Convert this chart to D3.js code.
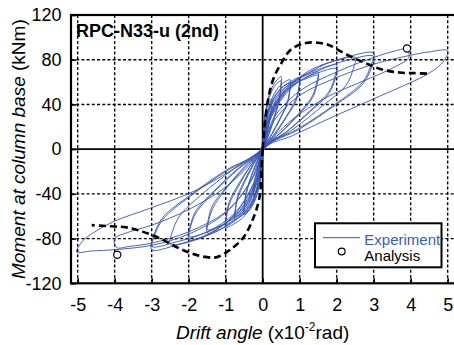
<!DOCTYPE html>
<html><head><meta charset="utf-8">
<script src="https://cdn.jsdelivr.net/npm/d3@7"></script>
<style>
html,body{margin:0;padding:0;background:#fff;}
svg{display:block;font-family:"Liberation Sans",Arial,sans-serif;}
</style></head>
<body>
<svg id="chart" width="454" height="345"></svg>
<script>
// ---------- DATA ----------
const driftTicks = [-5,-4,-3,-2,-1,0,1,2,3,4,5];
const momentTicks = [-120,-80,-40,0,40,80,120];
const chartTitle = "RPC-N33-u (2nd)";
const legendLabels = ["Experiment","Analysis"];

// Experiment hysteresis, cycle by cycle (positive leaf then negative leaf)
const cycle1 = [[0.02,16],[0.06,29],[0.125,38],[0.195,43],[0.25,45],[0.245,40],[0.225,32],[0.16,21],[0.08,10],[0.01,1],
  [-0.02,-15],[-0.06,-27],[-0.125,-36],[-0.195,-40],[-0.25,-42],[-0.245,-37],[-0.225,-29],[-0.16,-20],[-0.08,-9],[-0.01,-1]];
const cycle2 = [[0.04,23],[0.125,42],[0.25,55],[0.39,62],[0.5,65],[0.49,57],[0.45,46],[0.33,31],[0.17,14],[0.02,1],
  [-0.04,-20],[-0.125,-38],[-0.25,-49],[-0.39,-56],[-0.5,-58],[-0.49,-51],[-0.45,-41],[-0.33,-27],[-0.17,-13],[-0.02,-1]];
const cycle3 = [[0.04,21],[0.125,40],[0.25,52],[0.39,59],[0.5,61],[0.49,54],[0.45,43],[0.33,29],[0.17,13],[0.01,0],
  [-0.04,-20],[-0.125,-36],[-0.25,-48],[-0.39,-54],[-0.5,-56],[-0.49,-49],[-0.45,-39],[-0.33,-26],[-0.17,-12],[-0.01,-1]];
const cycle4 = [[0.06,22],[0.19,40],[0.375,53],[0.585,60],[0.75,62],[0.735,55],[0.675,43],[0.49,29],[0.25,14],[0.02,1],
  [-0.06,-22],[-0.19,-41],[-0.375,-54],[-0.585,-60],[-0.75,-63],[-0.735,-55],[-0.675,-44],[-0.49,-30],[-0.25,-14],[-0.02,-1]];
const cycle5 = [[0.06,21],[0.19,38],[0.375,50],[0.585,57],[0.75,59],[0.735,52],[0.675,41],[0.49,28],[0.25,13],[0.02,1],
  [-0.06,-21],[-0.19,-39],[-0.375,-51],[-0.585,-58],[-0.75,-60],[-0.735,-53],[-0.675,-42],[-0.49,-28],[-0.25,-13],[-0.02,-1]];
const cycle6 = [[0.08,22],[0.25,42],[0.5,54],[0.78,61],[1.0,64],[0.98,56],[0.9,45],[0.65,30],[0.33,14],[0.03,1],
  [-0.08,-24],[-0.25,-45],[-0.5,-60],[-0.78,-67],[-1.0,-70],[-0.98,-62],[-0.9,-49],[-0.65,-33],[-0.33,-15],[-0.03,-1]];
const cycle7 = [[0.08,21],[0.25,40],[0.5,52],[0.78,59],[1.0,61],[0.98,54],[0.9,43],[0.65,29],[0.33,13],[0.03,1],
  [-0.08,-23],[-0.25,-44],[-0.5,-57],[-0.78,-64],[-1.0,-67],[-0.98,-59],[-0.9,-47],[-0.65,-31],[-0.33,-15],[-0.03,-1]];
const cycle8 = [[0.12,24],[0.375,45],[0.75,59],[1.17,66],[1.5,69],[1.47,61],[1.35,48],[0.98,32],[0.5,15],[0.04,1],
  [-0.12,-26],[-0.375,-49],[-0.75,-64],[-1.17,-72],[-1.5,-75],[-1.47,-66],[-1.35,-53],[-0.98,-35],[-0.5,-17],[-0.04,-1]];
const cycle9 = [[0.12,23],[0.375,43],[0.75,56],[1.17,63],[1.5,66],[1.47,58],[1.35,46],[0.98,31],[0.5,15],[0.04,1],
  [-0.12,-25],[-0.375,-47],[-0.75,-61],[-1.17,-69],[-1.5,-72],[-1.47,-63],[-1.35,-50],[-0.98,-34],[-0.5,-16],[-0.04,-1]];
const cycle10 = [[0.16,26],[0.5,49],[1.0,64],[1.56,72],[2.0,75],[1.96,66],[1.8,52],[1.3,35],[0.66,16],[0.05,1],
  [-0.16,-28],[-0.5,-53],[-1.0,-69],[-1.56,-78],[-2.0,-81],[-1.96,-71],[-1.8,-57],[-1.3,-38],[-0.66,-18],[-0.05,-1]];
const cycle11 = [[0.16,25],[0.5,47],[1.0,61],[1.56,69],[2.0,72],[1.96,63],[1.8,50],[1.3,34],[0.66,16],[0.05,1],
  [-0.16,-27],[-0.5,-51],[-1.0,-66],[-1.56,-75],[-2.0,-78],[-1.96,-69],[-1.8,-55],[-1.3,-37],[-0.66,-17],[-0.05,-1]];
const cycle12 = [[0.2,29],[0.625,53],[1.25,70],[1.95,79],[2.5,82],[2.45,72],[2.25,57],[1.63,39],[0.83,18],[0.06,1],
  [-0.2,-30],[-0.625,-55],[-1.25,-72],[-1.95,-82],[-2.5,-85],[-2.45,-75],[-2.25,-60],[-1.63,-40],[-0.83,-19],[-0.06,-1]];
const cycle13 = [[0.24,30],[0.75,56],[1.5,73],[2.34,83],[3.0,86],[2.94,76],[2.7,60],[1.95,40],[1.0,19],[0.06,1],
  [-0.24,-31],[-0.75,-58],[-1.5,-77],[-2.34,-86],[-3.0,-90],[-2.94,-79],[-2.7,-63],[-1.95,-42],[-1.0,-20],[-0.06,-1]];
const cycle14 = [[0.24,29],[0.75,54],[1.5,70],[2.34,80],[3.0,83],[2.94,73],[2.7,58],[1.95,39],[1.0,18],[0.06,1],
  [-0.24,-30],[-0.75,-57],[-1.5,-74],[-2.34,-83],[-3.0,-87],[-2.94,-77],[-2.7,-61],[-1.95,-41],[-1.0,-19],[-0.06,-1]];
const cycle15 = [[0.3,28],[1.0,52],[2.0,69],[3.0,82],[3.6,88],[3.9,89.5],[3.95,82],[3.6,74],[2.8,62],[1.82,48],[0.9,29],[0.3,11],[0.05,1],
  [-0.3,-28],[-1.0,-56],[-2.0,-74],[-3.0,-84],[-3.6,-87],[-3.95,-88],[-4.0,-80],[-3.6,-74],[-3.0,-68],[-2.0,-54],[-1.0,-34],[-0.3,-12],[-0.05,-1]];
const cycle16 = [[0.3,25],[1.0,48],[2.0,64],[3.0,76],[4.0,84],[4.5,87],[5.0,88],[4.9,79],[4.7,72.5],[4.34,65],[3.0,45],[1.82,27.7],[0.8,12],[0.05,1],
  [-0.3,-27],[-1.0,-57],[-2.0,-76],[-3.0,-86],[-4.04,-90],[-4.6,-91],[-5.03,-92],[-4.95,-86],[-4.8,-80],[-4.04,-65],[-3.05,-53],[-1.88,-38],[-0.9,-20],[0,0]];
const experimentCycles = [cycle1,cycle2,cycle3,cycle4,cycle5,cycle6,cycle7,cycle8,
  cycle9,cycle10,cycle11,cycle12,cycle13,cycle14,cycle15,cycle16];

// Analysis skeleton curves (dashed)
const analysisPositive = [[0,0],[0.03,12],[0.06,24],[0.15,45],[0.29,63],[0.49,76],[0.76,89],[1.17,95],[1.55,95],
  [1.8,93],[2.0,89.5],[2.4,82.5],[2.81,76.5],[3.2,71.5],[3.7,68.5],[4.1,68],[4.52,67.5]];
const analysisNegative = [[0,0],[-0.03,-17],[-0.07,-40],[-0.21,-58],[-0.52,-79],[-0.88,-90],[-1.15,-95.5],[-1.3,-97],
  [-1.7,-95.5],[-2.24,-89],[-2.8,-79.5],[-3.23,-74],[-3.68,-70],[-4.13,-69],[-4.62,-68]];
// Analysis ultimate points (circles)
const analysisPoints = [[3.9,90],[-3.93,-94.5]];

// ---------- CHART ----------
const svg = d3.select("#chart");
const blue = "#3553b0";
const x = d3.scaleLinear().domain([-5.18, 5.22]).range([71, 455.8]);
const y = d3.scaleLinear().domain([-120, 120]).range([283.3, 15]);
const L = x.range()[0], R = x.range()[1], T = y.range()[1], B = y.range()[0];

svg.append("defs").append("clipPath").attr("id","plotclip")
  .append("rect").attr("x",L).attr("y",T).attr("width",R-L).attr("height",B-T);

// gridlines
const grid = svg.append("g");
grid.selectAll(".vg").data(driftTicks.filter(d=>d!==0)).join("line")
  .attr("x1",d=>x(d)).attr("x2",d=>x(d)).attr("y1",T).attr("y2",B)
  .attr("stroke","#000").attr("stroke-width",1.4).attr("stroke-dasharray","3,2.2");
grid.selectAll(".hg").data(momentTicks.filter(d=>d!==0 && Math.abs(d)!==120)).join("line")
  .attr("x1",L).attr("x2",R).attr("y1",d=>y(d)).attr("y2",d=>y(d))
  .attr("stroke","#000").attr("stroke-width",1.4).attr("stroke-dasharray","3,2.2");
grid.append("line").attr("x1",x(0)).attr("x2",x(0)).attr("y1",T).attr("y2",B)
  .attr("stroke","#000").attr("stroke-width",1.8);
grid.append("line").attr("x1",L).attr("x2",R).attr("y1",y(0)).attr("y2",y(0))
  .attr("stroke","#000").attr("stroke-width",1.8);

// title
svg.append("text").attr("x",76).attr("y",36.5).attr("font-weight","bold").attr("font-size",18)
  .attr("fill","#000").text(chartTitle);

const plot = svg.append("g").attr("clip-path","url(#plotclip)");

// experiment
const expPath = [[0,0]].concat(...experimentCycles);
const line = d3.line().x(d=>x(d[0])).y(d=>y(d[1])).curve(d3.curveCatmullRom.alpha(0.5));
plot.append("path").attr("d",line(expPath)).attr("fill","none")
  .attr("stroke",blue).attr("stroke-width",0.9).attr("stroke-linejoin","round");

// analysis
const line2 = d3.line().x(d=>x(d[0])).y(d=>y(d[1])).curve(d3.curveCatmullRom.alpha(0.5));
[analysisPositive, analysisNegative].forEach(a=>{
  plot.append("path").attr("d",line2(a)).attr("fill","none")
    .attr("stroke","#000").attr("stroke-width",2.6).attr("stroke-dasharray","7,4");
});
plot.selectAll(".ap").data(analysisPoints).join("circle")
  .attr("cx",d=>x(d[0])).attr("cy",d=>y(d[1])).attr("r",3.6)
  .attr("fill","#fff").attr("stroke","#000").attr("stroke-width",1.2);

// frame
svg.append("rect").attr("x",L).attr("y",T).attr("width",R-L).attr("height",B-T)
  .attr("fill","none").attr("stroke","#000").attr("stroke-width",2.2);

// axes
const xAxis = d3.axisBottom(x).tickValues(driftTicks).tickSize(-5).tickPadding(15).tickFormat(d3.format("d"));
const gx = svg.append("g").attr("transform",`translate(0,${B})`).call(xAxis);
const yAxis = d3.axisLeft(y).tickValues(momentTicks).tickSize(-5).tickPadding(9.5).tickFormat(d3.format("d"));
const gy = svg.append("g").attr("transform",`translate(${L},0)`).call(yAxis);
[gx,gy].forEach(g=>{
  g.select(".domain").remove();
  g.selectAll(".tick line").attr("stroke","#000").attr("stroke-width",1.6);
  g.selectAll(".tick text").attr("font-size",18).attr("fill","#000")
    .attr("font-family","'Liberation Sans',Arial,sans-serif");
});
gx.selectAll(".tick text").text(d=> d<0 ? "-"+Math.abs(d) : d);
gy.selectAll(".tick text").text(d=> d<0 ? "-"+Math.abs(d) : d);

// axis titles
const xt = svg.append("text").attr("x",(x(-5)+x(5))/2 - 0).attr("y",338.5).attr("text-anchor","middle")
  .attr("font-size",19).attr("fill","#000");
xt.append("tspan").attr("font-style","italic").text("Drift angle");
xt.append("tspan").text(" (x10");
xt.append("tspan").attr("font-size",12).attr("dy",-8).text("-2");
xt.append("tspan").attr("dy",8).text("rad)");

const yt = svg.append("text").attr("transform",`translate(25,${(T+B)/2}) rotate(-90)`)
  .attr("text-anchor","middle").attr("font-size",19).attr("fill","#000");
yt.append("tspan").attr("font-style","italic").text("Moment at column base");
yt.append("tspan").text(" (kNm)");

// legend
const lg = svg.append("g");
lg.append("rect").attr("x",315).attr("y",223.3).attr("width",126.5).attr("height",44)
  .attr("fill","#fff").attr("stroke","#000").attr("stroke-width",2);
lg.append("line").attr("x1",323).attr("x2",360).attr("y1",237.7).attr("y2",237.7)
  .attr("stroke",blue).attr("stroke-width",1);
lg.append("text").attr("x",364.3).attr("y",244.5).attr("font-size",15).attr("fill","#3a5bbf").text(legendLabels[0]);
lg.append("circle").attr("cx",341.7).attr("cy",251.5).attr("r",3.4).attr("fill","#fff")
  .attr("stroke","#000").attr("stroke-width",1.2);
lg.append("text").attr("x",364.3).attr("y",260.5).attr("font-size",15).attr("fill","#000").text(legendLabels[1]);
</script>
</body></html>
